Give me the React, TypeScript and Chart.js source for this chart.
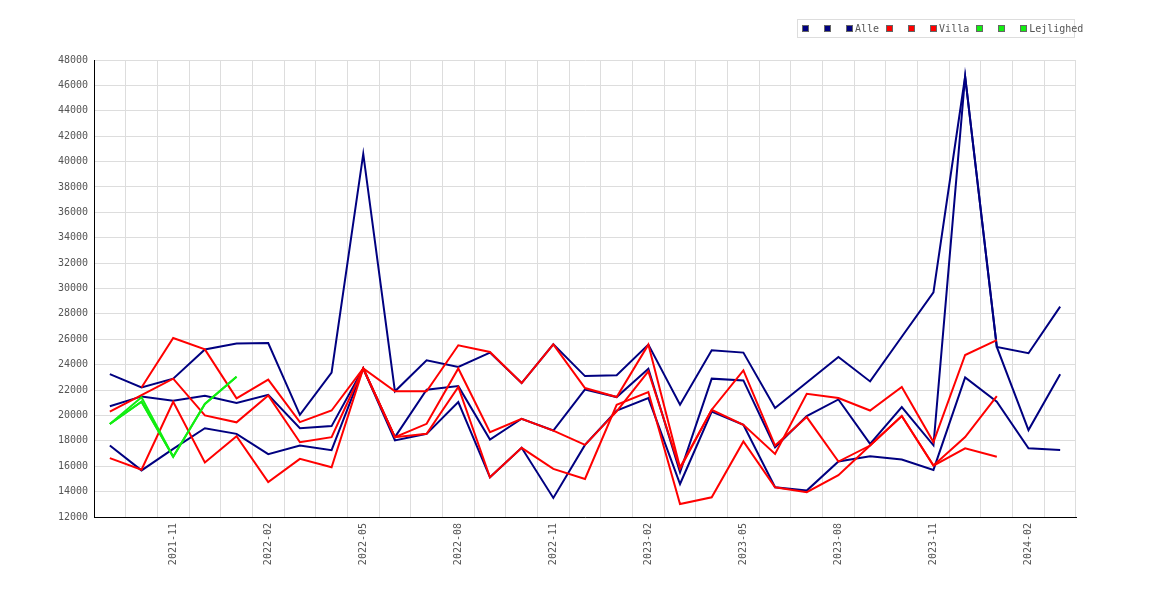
import React, { useEffect, useRef } from "react";
import { Chart, registerables } from "chart.js";

Chart.register(...registerables);

// months on the x axis, 2021-09 .. 2024-03
const months = [
  "2021-09", "2021-10", "2021-11", "2021-12", "2022-01", "2022-02", "2022-03", "2022-04",
  "2022-05", "2022-06", "2022-07", "2022-08", "2022-09", "2022-10", "2022-11", "2022-12",
  "2023-01", "2023-02", "2023-03", "2023-04", "2023-05", "2023-06", "2023-07", "2023-08",
  "2023-09", "2023-10", "2023-11", "2023-12", "2024-01", "2024-02", "2024-03"
];

// only every third month gets a label
const tickLabels = [
  "2021-11", "2022-02", "2022-05", "2022-08", "2022-11",
  "2023-02", "2023-05", "2023-08", "2023-11", "2024-02"
];

const yMin = 12000;
const yMax = 48000;
const yStep = 2000;

// Alle
const alle1 = [
  23250, 22200, 22900, 25200, 25660, 25700, 20050, 23370, 40600, 21900, 24340, 23815, 24950, 22550, 25600, 23100,
  23160, 25580, 20840, 25130, 24950, 20580, 22600, 24600, 22680, 26200, 29700, 46700, 25400, 24900, 28570
];
const alle2 = [
  20720, 21500, 21160, 21550, 20980, 21630, 19000, 19160, 23700, 18290, 22030, 22310, 18100, 19740, 18810, 22050,
  21450, 23680, 15520, 22900, 22760, 17500, 19950, 21260, 17760, 20660, 17650, 46700, 25400, 18850, 23240
];
const alle3 = [
  17630, 15670, 17370, 18990, 18550, 16950, 17630, 17260, 23700, 18030, 18550, 21050, 15130, 17450, 13500, 17680,
  20390, 21370, 14600, 20310, 19260, 14340, 14080, 16370, 16790, 16530, 15710, 23000, 21080, 17410, 17280
];

// Villa
const villa1 = [
  20300, 21600, 22900, 20000, 19460, 21580, 17890, 18290, 23700, 18290, 19340, 23700, 18680, 19740, 18800, 17680,
  20320, 23470, 15800, 20450, 23550, 17630, 19870, 16370, 17630, 19950, 16050, 18300, 21530, null, null
];
const villa2 = [
  null, 22200, 26100, 25200, 21350, 22820, 19470, 20390, 23700, 21900, 21900, 25530, 25000, 22550, 25600, 22160,
  21450, 25580, 15900, 20450, 19260, 16970, 21710, 21370, 20390, 22240, 17900, 24760, 25940, null, null
];
const villa3 = [
  16640, 15720, 21080, 16300, 18360, 14750, 16580, 15920, 23700, 18290, 18550, 22240, 15130, 17450, 15790, 15000,
  20840, 21840, 13020, 13550, 17950, 14340, 13950, 15300, 17630, 19950, 16050, 17410, 16750, null, null
];

// Lejlighed
const lejl1 = [19330, 21430, 16750, 20900, 23050];
const lejl2 = [19330, 21080, 16750, 20900, 23050];
const lejl3 = [19330, 21080, 16750];

const NAVY = "#000080";
const RED = "#ff0000";
const GREEN = "#11ee11";

const groups = [
  { name: "Alle", color: NAVY, series: [alle1, alle2, alle3], order: 2 },
  { name: "Villa", color: RED, series: [villa1, villa2, villa3], order: 1 },
  { name: "Lejlighed", color: GREEN, series: [lejl1, lejl2, lejl3], order: 0 }
];

const FONT = "'DejaVu Sans Mono', monospace";

function LegendBox({ color }: { color: string }) {
  return (
    <span
      style={{
        display: "inline-block",
        width: 5,
        height: 5,
        background: color,
        border: "1px solid #666",
        marginRight: 15
      }}
    />
  );
}

export default function App() {
  const canvasRef = useRef<HTMLCanvasElement | null>(null);

  useEffect(() => {
    if (!canvasRef.current) return;
    const datasets: any[] = [];
    groups.forEach((g) => {
      g.series.forEach((s, i) => {
        datasets.push({
          label: i === 2 ? g.name : "",
          data: s,
          borderColor: g.color,
          backgroundColor: g.color,
          borderWidth: 2,
          pointRadius: 0,
          tension: 0,
          fill: false,
          order: g.order
        });
      });
    });

    const chart = new Chart(canvasRef.current, {
      type: "line",
      data: { labels: months, datasets },
      options: {
        animation: false,
        responsive: false,
        layout: { padding: { left: 0, right: 94, top: 60, bottom: 0 } },
        plugins: { legend: { display: false }, tooltip: { enabled: false } },
        scales: {
          x: {
            offset: true,
            grid: { offset: true, color: "#dddddd", drawTicks: false },
            border: { color: "#000000", width: 1 },
            afterFit: (s: any) => {
              s.height = 83;
            },
            ticks: {
              autoSkip: false,
              maxRotation: 90,
              minRotation: 90,
              padding: 6,
              color: "#555555",
              font: { family: FONT, size: 10 },
              callback: function (this: any, v: any) {
                const l = this.getLabelForValue(v);
                return tickLabels.includes(l) ? l : "";
              }
            }
          },
          y: {
            min: yMin,
            max: yMax,
            grid: { color: "#dddddd", drawTicks: false },
            border: { color: "#000000", width: 1 },
            afterFit: (s: any) => {
              s.width = 94;
            },
            ticks: {
              stepSize: yStep,
              padding: 6,
              color: "#555555",
              font: { family: FONT, size: 10 },
              callback: (v: any) => String(v)
            }
          }
        }
      }
    });
    return () => chart.destroy();
  }, []);

  return (
    <div
      style={{
        position: "absolute",
        left: 0,
        top: 0,
        width: 1170,
        height: 600,
        background: "#fff"
      }}
    >
      <canvas ref={canvasRef} width={1170} height={600} />
      <div
        style={{
          position: "absolute",
          left: 797,
          top: 19,
          width: 278,
          height: 19,
          border: "1px solid #dddddd",
          display: "flex",
          alignItems: "center",
          paddingLeft: 4,
          boxSizing: "border-box",
          whiteSpace: "nowrap",
          fontFamily: FONT,
          fontSize: 10,
          color: "#555555"
        }}
      >
        {groups.map((g) => (
          <span key={g.name} style={{ display: "inline-flex", alignItems: "center" }}>
            <LegendBox color={g.color} />
            <LegendBox color={g.color} />
            <span
              style={{
                display: "inline-block",
                width: 5,
                height: 5,
                background: g.color,
                border: "1px solid #666",
                marginRight: 2
              }}
            />
            <span style={{ marginRight: 7 }}>{g.name}</span>
          </span>
        ))}
      </div>
    </div>
  );
}
